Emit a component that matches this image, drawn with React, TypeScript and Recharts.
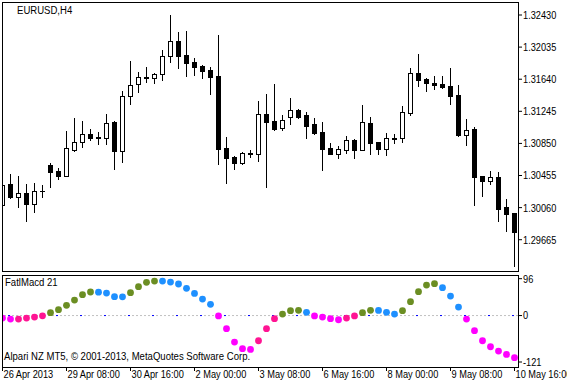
import { ComposedChart, Bar, Scatter, XAxis, YAxis, ReferenceLine } from 'recharts'

// EURUSD H4 candles
const opens = [
  1.30088, 1.30350, 1.30187, 1.30240, 1.30101, 1.30270, 1.30584, 1.30510, 1.30452, 1.30772,
  1.30863, 1.30962, 1.30922, 1.30913, 1.31113, 1.30760, 1.31430, 1.31577, 1.31655, 1.31651,
  1.31700, 1.31922, 1.32110, 1.31938, 1.31855, 1.31802, 1.31753, 1.31679, 1.30793, 1.30683,
  1.30612, 1.30726, 1.30723, 1.31212, 1.31126, 1.31043, 1.31171, 1.31261, 1.31199, 1.31089,
  1.30990, 1.30793, 1.30723, 1.30772, 1.30892, 1.30772, 1.31101, 1.30867, 1.30785, 1.30916,
  1.30920, 1.31228, 1.31713, 1.31639, 1.31590, 1.31577, 1.31556, 1.31446, 1.30957, 1.31027,
  1.30445, 1.30391, 1.30436, 1.30067, 1.29993,
]
const highs = [
  1.30363, 1.30473, 1.30449, 1.30350, 1.30363, 1.30338, 1.30609, 1.30547, 1.31003, 1.31166,
  1.31126, 1.31027, 1.30990, 1.31212, 1.31126, 1.31495, 1.31864, 1.31729, 1.31790, 1.31716,
  1.31999, 1.32430, 1.32221, 1.32233, 1.31897, 1.31811, 1.31786, 1.32184, 1.30929, 1.30689,
  1.30744, 1.30772, 1.31372, 1.31458, 1.31581, 1.31199, 1.31409, 1.31277, 1.31233, 1.31163,
  1.31113, 1.30855, 1.30822, 1.30945, 1.30904, 1.31322, 1.31175, 1.30873, 1.30978, 1.30962,
  1.31310, 1.31774, 1.31950, 1.31651, 1.31679, 1.31679, 1.31778, 1.31569, 1.31150, 1.31052,
  1.30450, 1.30507, 1.30494, 1.30166, 1.29995,
]
const lows = [
  1.30067, 1.30178, 1.30064, 1.29899, 1.30009, 1.30194, 1.30317, 1.30416, 1.30450, 1.30760,
  1.30809, 1.30892, 1.30843, 1.30843, 1.30539, 1.30625, 1.31339, 1.31486, 1.31609, 1.31597,
  1.31630, 1.31855, 1.31782, 1.31683, 1.31695, 1.31658, 1.31462, 1.30600, 1.30366, 1.30539,
  1.30600, 1.30679, 1.30637, 1.30317, 1.31015, 1.31015, 1.31089, 1.31166, 1.30920, 1.30969,
  1.30526, 1.30715, 1.30670, 1.30736, 1.30674, 1.30770, 1.30723, 1.30723, 1.30711, 1.30858,
  1.30871, 1.31203, 1.31560, 1.31498, 1.31523, 1.31535, 1.31339, 1.30945, 1.30834, 1.30096,
  1.30206, 1.30354, 1.29899, 1.29776, 1.29345,
]
const closes = [
  1.30334, 1.30187, 1.30240, 1.30101, 1.30261, 1.30264, 1.30502, 1.30452, 1.30793, 1.30863,
  1.30962, 1.30920, 1.30929, 1.31097, 1.30760, 1.31430, 1.31565, 1.31663, 1.31661, 1.31704,
  1.31922, 1.32110, 1.31929, 1.31836, 1.31794, 1.31745, 1.31671, 1.30785, 1.30674, 1.30612,
  1.30732, 1.30732, 1.31208, 1.31117, 1.31027, 1.31134, 1.31261, 1.31179, 1.31068, 1.30978,
  1.30785, 1.30723, 1.30781, 1.30888, 1.30772, 1.31113, 1.30858, 1.30785, 1.30913, 1.30922,
  1.31233, 1.31713, 1.31634, 1.31597, 1.31572, 1.31548, 1.31437, 1.30953, 1.31011, 1.30440,
  1.30391, 1.30433, 1.30046, 1.29985, 1.29763,
]

// FatlMacd 21 values
const fatlMacd = [
  -6.5, -9.3, -9.1, -6.5, -3.9, -0.6, 7.4, 15.2, 26.5, 40.4,
  54.3, 61.3, 61.0, 58.6, 49.2, 48.8, 59.5, 75.1, 86.4, 89.9,
  89.7, 87.3, 82.1, 70.8, 57.7, 43.0, 29.1, -1.0, -34.3, -69.0,
  -86.4, -88.1, -65.6, -34.3, -8.2, 3.9, 12.6, 13.5, 8.3, -1.0,
  -3.9, -8.2, -10.9, -6.5, -1.0, 7.4, 13.5, 13.3, 8.3, 3.9,
  12.6, 36.0, 62.1, 79.4, 82.9, 72.5, 50.8, 22.1, -9.1, -39.5,
  -65.6, -81.2, -92.5, -101.2, -109.8,
]

const priceTicks = [1.29665, 1.30060, 1.30455, 1.30850, 1.31245, 1.31640, 1.32035, 1.32430]
const macdTicks = [96, 0, -121]
const timeTickBars = [0, 8, 16, 24, 32, 40, 48, 56, 64]
const timeLabels = [
  '26 Apr 2013', '29 Apr 08:00', '30 Apr 16:00', '2 May 00:00', '3 May 08:00',
  '6 May 16:00', '8 May 00:00', '9 May 08:00', '10 May 16:00',
]

const FONT = '"Liberation Sans", Arial, sans-serif'
const xDomain = [-0.0625, 64.4375]

const candles = opens.map((o, i) => ({ k: i, o, h: highs[i], l: lows[i], c: closes[i] }))

// colour buffer: above zero rising/falling, below zero falling/rising
const macdData = fatlMacd.map((v, i) => {
  const prev = i > 0 ? fatlMacd[i - 1] : v + 1
  let color
  if (v > 0) color = v >= prev ? '#6B8E23' : '#1E90FF'
  else color = v <= prev ? '#FF00FF' : '#FF1493'
  return { k: i, v, color }
})

// terminal font is narrower than Arial, so squeeze the text a bit
const Txt = ({ x, y, sx = 0.84, dy, children }: any) => (
  <text transform={`translate(${x},${y}) scale(${sx},1)`} dy={dy} fontSize={11} fontFamily={FONT} fill="#000">
    {children}
  </text>
)

const Candle = (props: any) => {
  const { x, y, width, height, payload } = props
  const { o, h, l, c } = payload
  const top = Math.min(y, y + height)
  const bot = Math.max(y, y + height)
  const py = (v: number) => (h === l ? top : top + ((h - v) / (h - l)) * (bot - top))
  const cx = Math.floor(x + width / 2)
  const hiY = Math.round(py(h))
  const loY = Math.round(py(l))
  const t = Math.round(py(Math.max(o, c)))
  const b = Math.round(py(Math.min(o, c)))
  return (
    <g>
      <rect x={cx} y={hiY} width={1} height={loY - hiY + 1} fill="#000" />
      {c >= o ? (
        <rect x={cx - 1.5} y={t + 0.5} width={4} height={Math.max(b - t, 1)} fill="#fff" stroke="#000" />
      ) : (
        <rect x={cx - 2} y={t} width={5} height={b - t + 1} fill="#000" />
      )}
    </g>
  )
}

// the indicator chart starts at y=274, so the label baseline (378) is 104 inside it
const TimeTick = (props: any) => {
  const { x, payload } = props
  return <Txt x={x + 1} y={104}>{timeLabels[timeTickBars.indexOf(payload.value)]}</Txt>
}

const PriceTick = (props: any) => {
  const { x, y, payload } = props
  return <Txt x={x} y={y} dy="0.355em">{payload.value.toFixed(5)}</Txt>
}

const MacdTick = (props: any) => {
  const { x, y, payload } = props
  return <Txt x={x} y={y} dy="0.355em">{payload.value}</Txt>
}

const App = () => {
  return (
    <div style={{ position: 'absolute', left: 0, top: 0, width: 567, height: 384, background: '#fff', overflow: 'hidden' }}>
      <div style={{ position: 'absolute', left: 0, top: 0 }}>
        <ComposedChart width={567} height={272} data={candles} margin={{ top: 2, right: 0, bottom: 1, left: 2 }}>
          <XAxis dataKey="k" type="number" domain={xDomain} allowDataOverflow hide height={0} />
          <YAxis
            orientation="right"
            width={49}
            domain={[1.2928, 1.3259]}
            allowDataOverflow
            ticks={priceTicks}
            interval={0}
            axisLine={false}
            tickSize={4}
            tickMargin={1}
            tickLine={{ stroke: '#000' }}
            tick={PriceTick}
          />
          <Bar dataKey={(d: any) => [d.l, d.h]} barSize={5} shape={Candle} isAnimationActive={false} />
        </ComposedChart>
      </div>
      <div style={{ position: 'absolute', left: 0, top: 274 }}>
        <ComposedChart width={567} height={110} data={macdData} margin={{ top: 1, right: 0, bottom: 0, left: 2 }}>
          <XAxis
            dataKey="k"
            type="number"
            domain={xDomain}
            allowDataOverflow
            ticks={timeTickBars}
            interval={0}
            height={17}
            axisLine={false}
            tickSize={4}
            tickLine={{ stroke: '#000' }}
            tick={TimeTick}
          />
          <YAxis
            orientation="right"
            width={49}
            domain={[-134, 105.6]}
            allowDataOverflow
            ticks={macdTicks}
            interval={0}
            axisLine={false}
            tickSize={4}
            tickMargin={1}
            tickLine={{ stroke: '#000' }}
            tick={MacdTick}
          />
          <ReferenceLine y={0} stroke="#c0c0c0" strokeDasharray="2 2" />
          <ReferenceLine y={0} stroke="#0000ff" strokeDasharray="2 22" strokeDashoffset={20} />
          <Scatter
            dataKey="v"
            isAnimationActive={false}
            shape={(p: any) => <circle cx={p.cx} cy={p.cy} r={3.4} fill={p.payload.color} />}
          />
        </ComposedChart>
      </div>
      <svg width={567} height={384} style={{ position: 'absolute', left: 0, top: 0, pointerEvents: 'none' }}>
        <rect x={2.5} y={2.5} width={516} height={269} fill="none" stroke="#000" />
        <rect x={2.5} y={275.5} width={516} height={92} fill="none" stroke="#000" />
        <Txt x={17} y={14} sx={0.87}>EURUSD,H4</Txt>
        <Txt x={5} y={286} sx={0.87}>FatlMacd 21</Txt>
        <Txt x={4} y={360} sx={0.87}>Alpari NZ MT5, © 2001-2013, MetaQuotes Software Corp.</Txt>
      </svg>
    </div>
  )
}

export default App
